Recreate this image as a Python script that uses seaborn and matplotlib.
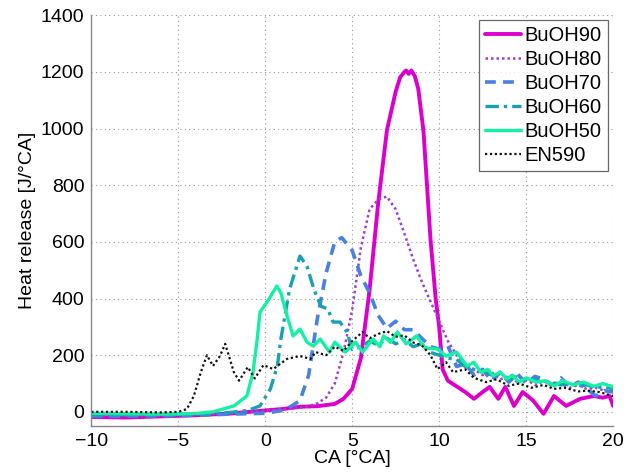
import numpy as np
import pandas as pd
import matplotlib
matplotlib.use("Agg")
import matplotlib.pyplot as plt
import seaborn as sns

# Heat release rate vs crank angle for butanol blends and diesel (EN590)
ca_90 = [-10, -8, -6, -4, -2, 0, 1, 2, 3, 4, 4.5, 5, 5.5, 6, 6.5, 7, 7.5, 7.75, 8.0, 8.1,
         8.25, 8.4, 8.6, 8.8, 9.1, 9.5, 9.8, 10.0, 10.2, 10.5, 11, 11.5, 12, 12.5, 12.9,
         13.4, 13.8, 14.3, 14.8, 15.4, 16.0, 16.6, 17.3, 18.1, 18.9, 19.4, 19.8, 20]
hr_90 = [-18, -20, -16, -12, -6, 5, 10, 18, 20, 28, 46, 81, 190, 430, 740, 995, 1130, 1180,
         1200, 1205, 1193, 1205, 1185, 1140, 990, 610, 400, 300, 150, 110, 90, 70, 46, 70,
         88, 46, 88, 21, 70, 40, -7, 56, 21, 46, 56, 50, 56, 21]

ca_80 = [-10, -6, -4, -2, 0, 1, 2, 2.5, 3, 3.5, 4, 4.5, 5, 5.5, 6, 6.5, 7, 7.5, 8, 8.5,
         9, 9.5, 10, 10.5, 11, 11.5, 12, 12.5, 13, 13.5, 14, 14.5, 15, 15.5, 16, 16.5,
         17, 17.5, 18, 18.5, 19, 19.5, 20]
hr_80 = [-15, -14, -10, -6, 4, 10, 15, 20, 30, 50, 100, 210, 360, 580, 715, 750, 760, 715,
         630, 540, 460, 390, 320, 250, 200, 165, 150, 130, 140, 115, 125, 105, 115, 95,
         110, 90, 100, 85, 95, 80, 85, 75, 70]

ca_70 = [-10, -6, -4, -2, 0, 1, 1.5, 2, 2.5, 3, 3.5, 4, 4.4, 5, 5.5, 6, 6.5, 7, 7.5, 8,
         8.5, 9, 9.5, 10, 10.5, 11, 11.5, 12, 12.5, 13, 13.5, 14, 14.5, 15, 15.5, 16,
         16.5, 17, 17.5, 18, 18.5, 19, 19.5, 20]
hr_70 = [-15, -14, -12, -8, -5, 5, 20, 40, 130, 330, 490, 600, 615, 570, 480, 420, 340,
         295, 320, 290, 290, 260, 230, 222, 233, 160, 170, 130, 150, 110, 140, 105, 134,
         100, 125, 116, 95, 120, 90, 105, 80, 56, 75, 70]

ca_60 = [-10, -6, -4, -2, -1, -0.3, 0.3, 0.7, 0.9, 1.4, 2.0, 2.4, 2.8, 3.2, 3.6, 3.9,
         4.3, 4.7, 5.0, 5.5, 6, 6.5, 7, 7.5, 8, 8.5, 9, 9.5, 10, 10.5, 11, 11.5, 12, 12.5,
         13, 13.5, 14, 14.5, 15, 15.5, 16, 16.5, 17, 17.5, 18, 18.5, 19, 19.5, 20]
hr_60 = [-10, -10, -8, -2, 5, 21, 81, 162, 257, 433, 550, 514, 433, 373, 363, 317, 317,
         282, 220, 230, 250, 235, 260, 240, 255, 230, 240, 210, 200, 190, 185, 160, 150,
         145, 130, 135, 115, 125, 110, 115, 100, 105, 95, 100, 90, 95, 85, 90, 80]

ca_50 = [-10, -6, -4, -3, -1.8, -1.05, -0.7, -0.46, -0.3, 0.1, 0.67, 0.9, 1.26, 1.6, 2.0,
         2.4, 2.76, 3.16, 3.7, 4.0, 4.6, 5.2, 5.6, 6.2, 6.6, 6.8, 7.2, 7.6, 8.1, 8.7, 9.2,
         9.9, 10.4, 11.0, 11.6, 12.0, 12.4, 12.8, 13.1, 13.5, 13.9, 14.2, 14.6, 15.0, 15.6,
         16.1, 16.6, 17.1, 17.7, 18.3, 18.9, 19.4, 20]
hr_50 = [-5, -8, -6, 0, 21, 56, 140, 257, 352, 387, 444, 420, 338, 268, 292, 246, 232, 257,
         211, 246, 211, 246, 211, 257, 230, 268, 245, 282, 240, 268, 225, 222, 197, 211, 162,
         175, 140, 150, 127, 140, 116, 130, 105, 120, 105, 110, 92, 110, 95, 105, 90, 100, 88]

ca_en = [-10, -8, -6, -5, -4.5, -4.1, -3.7, -3.35, -3.0, -2.6, -2.3, -1.8, -1.5, -1.0, -0.6,
         -0.1, 0.46, 1.26, 2.0, 2.6, 2.9, 3.5, 4.0, 4.5, 5.0, 5.6, 6.0, 6.5, 7.0, 7.5, 8.0,
         8.5, 9.0, 9.5, 9.9, 10.4, 10.8, 11.5, 12.0, 12.7, 13.3, 14.0, 14.6, 15.3, 16.0,
         16.6, 17.2, 18.0, 18.5, 19.2, 20]
hr_en = [0, 0, -2, 0, 10, 56, 140, 200, 162, 197, 240, 140, 110, 158, 118, 165, 151, 187,
         197, 187, 211, 200, 230, 215, 250, 282, 260, 275, 285, 265, 270, 245, 235, 200, 151,
         175, 140, 150, 120, 105, 115, 92, 100, 85, 95, 81, 85, 72, 75, 70, 56]

series = ["BuOH90", "BuOH80", "BuOH70", "BuOH60", "BuOH50", "EN590"]
ca_data = [ca_90, ca_80, ca_70, ca_60, ca_50, ca_en]
hr_data = [hr_90, hr_80, hr_70, hr_60, hr_50, hr_en]

styles = {
    "BuOH90": dict(color="#DD00CC", linestyle="-", linewidth=2.8),
    "BuOH80": dict(color="#9A3FD6", linestyle=(0, (1, 1.2)), linewidth=1.8),
    "BuOH70": dict(color="#4A80E2", linestyle=(0, (3, 2)), linewidth=2.6),
    "BuOH60": dict(color="#1AA0B4", linestyle=(0, (4, 1.5, 1, 1.5)), linewidth=2.4),
    "BuOH50": dict(color="#14F0A4", linestyle="-", linewidth=2.4),
    "EN590": dict(color="#111111", linestyle=(0, (1, 1.2)), linewidth=1.6),
}

sns.set_style("white")
plt.rcParams["font.family"] = ["Liberation Sans", "DejaVu Sans"]
plt.rcParams["text.color"] = "black"
plt.rcParams["axes.labelcolor"] = "black"
plt.rcParams["xtick.color"] = "black"
plt.rcParams["ytick.color"] = "black"

fig = plt.figure(figsize=(6.38, 4.76), dpi=100)
ax = fig.add_axes([0.143, 0.105, 0.818, 0.863])

for name, xs, ys in zip(series, ca_data, hr_data):
    df = pd.DataFrame({"CA": xs, "HR": ys})
    sns.lineplot(data=df, x="CA", y="HR", ax=ax, estimator=None, sort=False,
                 label=name, **styles[name])

ax.set_xlim(-10, 20)
ax.set_ylim(-50, 1400)
ax.set_xticks([-10, -5, 0, 5, 10, 15, 20])
ax.set_yticks([0, 200, 400, 600, 800, 1000, 1200, 1400])
ax.grid(True, color="#999999", linestyle=(0, (1, 3)), linewidth=0.8)
for side in ["top", "right"]:
    ax.spines[side].set_visible(False)
for side in ["left", "bottom"]:
    ax.spines[side].set_color("#888888")
    ax.spines[side].set_linewidth(1.0)
ax.tick_params(axis="both", labelsize=14, direction="out", length=3,
               color="#888888", labelcolor="black", pad=2)
ax.set_xlabel("CA [°CA]", fontsize=14, labelpad=0)
ax.set_ylabel("Heat release [J/°CA]", fontsize=14, labelpad=3)

leg = ax.legend(loc="upper right", bbox_to_anchor=(0.990, 0.988), borderaxespad=0,
                fontsize=14.5, handlelength=1.75, handletextpad=0.2, labelspacing=0.25,
                borderpad=0.3, frameon=True, fancybox=False)
leg.get_frame().set_edgecolor("#444444")
leg.get_frame().set_linewidth(0.9)

fig.savefig("out.png", dpi=100)
